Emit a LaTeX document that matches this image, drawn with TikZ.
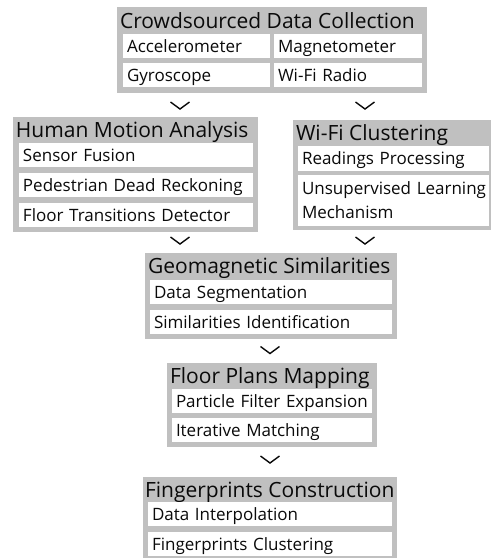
\documentclass[tikz,border=0pt]{standalone}
\usepackage{fontspec}
\setmainfont{Open Sans}
\definecolor{panelgray}{RGB}{192,192,192}
\definecolor{inkblack}{RGB}{10,10,10}
\def \globalscale {1.000000}
\newcommand{\chevronat}[1]{\draw[chev] ([shift={(-9.5,-3.5)}]#1) -- ++(9.5,7) -- ++(9.5,-7);}

\begin{document}
\begin{tikzpicture}[y=1pt, x=1pt, yscale=-\globalscale, xscale=\globalscale, inner sep=0pt, outer sep=0pt,
  panel/.style={fill=panelgray, anchor=north west},
  paneltitle/.style={anchor=base west, text=inkblack, font=\fontsize{21}{25}\selectfont},
  item/.style={fill=white, anchor=north west, text width=#1, align=left, inner xsep=4pt, inner ysep=0pt,
    minimum height=24pt, text height=12pt, text depth=0pt, text=inkblack, font=\fontsize{17}{24}\selectfont},
  chev/.style={draw=inkblack, line width=1.4pt, line join=miter}]
\useasboundingbox (0,0) rectangle (491,558);

\node[panel, minimum width=310pt, minimum height=86pt] (collect) at (117,7) {};
\node[paneltitle] (collecttitle) at (120,28) {Crowdsourced Data Collection};
\node[item=139pt] (accel) at (123,34) {Accelerometer};
\node[item=140pt] (magnet) at (274,34) {Magnetometer};
\node[item=139pt] (gyro) at (123,63) {Gyroscope};
\node[item=140pt] (radio) at (274,63) {Wi-Fi Radio};



\coordinate (chevmotion) at (180,105.5);
\coordinate (chevwifi) at (365,105.5);
\chevronat{chevmotion}
\chevronat{chevwifi}



\node[panel, minimum width=245pt, minimum height=115pt] (motion) at (13,117) {};
\node[paneltitle] (motiontitle) at (16,137) {Human Motion Analysis};
\node[item=226pt] (fusion) at (19,143) {Sensor Fusion};
\node[item=226pt] (pdr) at (19,173) {Pedestrian Dead Reckoning};
\node[item=226pt] (floortrans) at (19,203) {Floor Transitions Detector};



\node[panel, minimum width=198pt, minimum height=110pt] (wificlust) at (293,120) {};
\node[paneltitle] (wificlusttitle) at (296,140) {Wi-Fi Clustering};
\node[item=183pt, minimum height=25pt] (readings) at (298,146) {Readings Processing};
\node[item=189pt, inner xsep=1pt, minimum height=51pt, text height=, text depth=] (unsup) at (298,175) {\hspace*{3pt}Unsupervised Learning\\\hspace*{3pt}Mechanism};



\coordinate (chevgeoleft) at (180,240.5);
\coordinate (chevgeoright) at (365,240.5);
\chevronat{chevgeoleft}
\chevronat{chevgeoright}



\node[panel, minimum width=252pt, minimum height=86pt] (geomag) at (145,253) {};
\node[paneltitle] (geomagtitle) at (148,273.5) {Geomagnetic Similarities};
\node[item=234pt] (dataseg) at (150,280) {Data Segmentation};
\node[item=234pt] (simident) at (150,310) {Similarities Identification};



\coordinate (chevfloor) at (270,350);
\chevronat{chevfloor}



\node[panel, minimum width=210pt, minimum height=84pt] (floorplan) at (167,363) {};
\node[paneltitle] (floorplantitle) at (170,383.5) {Floor Plans Mapping};
\node[item=192pt] (particle) at (172,389) {Particle Filter Expansion};
\node[item=192pt] (iterative) at (172,418) {Iterative Matching};



\coordinate (chevfinger) at (270,459.5);
\chevronat{chevfinger}



\node[panel, minimum width=254pt, minimum height=81pt] (finger) at (143,477) {};
\node[paneltitle] (fingertitle) at (145,497.5) {Fingerprints Construction};
\node[item=236pt] (interp) at (148,502) {Data Interpolation};
\node[item=236pt] (fpclust) at (148,532) {Fingerprints Clustering};

\end{tikzpicture}
\end{document}
